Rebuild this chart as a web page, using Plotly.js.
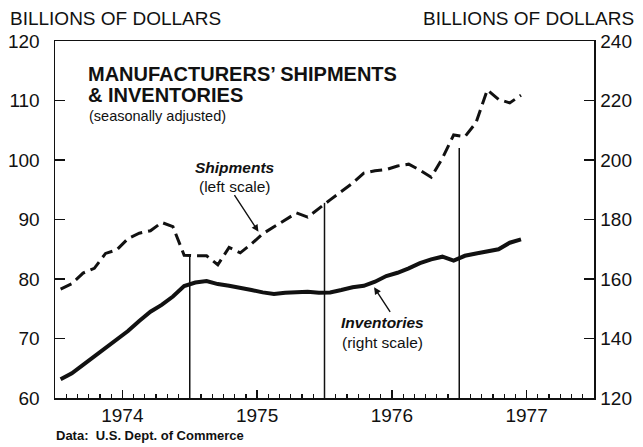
<!DOCTYPE html>
<html>
<head>
<meta charset="utf-8">
<script src="https://cdn.plot.ly/plotly-3.0.1.min.js"></script>
<style>
  html, body { margin: 0; padding: 0; background: #fff; }
  #chart { width: 643px; height: 447px; }
</style>
</head>
<body>
<div id="chart"></div>
<script>
// ---- Data (monthly, Jan 1974 – Jun 1977) ----
const yearLabels = ['1974', '1975', '1976', '1977'];
const yearCenters = [6, 18, 30, 42];          // month index of mid-year
const shipments = [78.3, 79.2, 81.0, 81.8, 84.3, 84.9, 86.8, 87.7, 88.1, 89.5, 88.8, 84.0,
                   83.9, 83.9, 82.4, 85.3, 84.4, 85.9, 87.6, 88.8, 89.9, 91.1, 90.4, 91.9,
                   93.3, 94.7, 96.1, 97.8, 98.2, 98.4, 99.0, 99.3, 98.3, 97.1, 100.3, 104.2,
                   103.9, 106.3, 111.8, 110.2, 109.6, 110.9];   // left scale, $bn
const inventories = [126.3, 128.3, 131.1, 133.9, 136.9, 139.5, 142.5, 145.9, 149.0, 151.3, 154.1, 157.6,
                     158.8, 159.3, 158.3, 157.7, 157.1, 156.3, 155.5, 155.0, 155.4, 155.7, 155.7, 155.4,
                     155.5, 156.3, 157.2, 157.7, 159.1, 161.0, 162.1, 163.6, 165.3, 166.6, 167.5, 166.2,
                     167.8, 168.6, 169.2, 170.0, 172.2, 173.3];  // right scale, $bn
const dropLineMonths = [12, 24, 36];          // year boundaries (Jan 1975, 1976, 1977)
const dropLineTops = [83.9, 92.8, 102.0];     // left-scale values where the lines stop

const monthX = shipments.map((_, i) => i + 0.5);

const ink = '#111';
const fontMain = 'Liberation Sans, Arial, sans-serif';

const traces = [
  {
    x: monthX, y: shipments, type: 'scatter', mode: 'lines', yaxis: 'y',
    line: { color: ink, width: 3, dash: '12px,6px' }, hoverinfo: 'skip'
  },
  {
    x: monthX, y: inventories, type: 'scatter', mode: 'lines', yaxis: 'y2',
    line: { color: ink, width: 4 }, hoverinfo: 'skip'
  }
];

const shapes = dropLineMonths.map((m, i) => ({
  type: 'line', xref: 'x', yref: 'y', x0: m, x1: m, y0: 60, y1: dropLineTops[i],
  line: { color: ink, width: 1.5 }
}));

const W = 643, H = 447, L = 54.6, R = 49, T = 40.5, B = 49;
const pw = W - L - R, ph = H - T - B;
const px = v => (v - L) / pw;
const py = v => (H - B - v) / ph;

function txt(text, x, y, size, opts = {}) {
  return Object.assign({
    text: text, xref: 'paper', yref: 'paper', x: px(x), y: py(y),
    showarrow: false, xanchor: 'left', yanchor: 'middle',
    font: { family: fontMain, size: size, color: ink }
  }, opts);
}

const annotations = [
  txt('BILLIONS OF DOLLARS', 8, 18, 19),
  txt('BILLIONS OF DOLLARS', 636, 18, 19, { xanchor: 'right' }),
  txt('<b>MANUFACTURERS’ SHIPMENTS</b>', 86, 74, 20),
  txt('<b>&amp; INVENTORIES</b>', 86, 95, 20),
  txt('(seasonally adjusted)', 87, 116, 14.5),
  txt('<b><i>Shipments</i></b>', 235, 167, 15.5, { xanchor: 'center' }),
  txt('(left scale)', 235, 186, 15.5, { xanchor: 'center' }),
  txt('<b><i>Inventories</i></b>', 382, 322, 15.5, { xanchor: 'center' }),
  txt('(right scale)', 382, 342, 15.5, { xanchor: 'center' }),
  txt('<b>Data:  U.S. Dept. of Commerce</b>', 54, 436, 13),
  {
    xref: 'x', yref: 'y', x: 18.12, y: 87.95, ax: -25, ay: -38, text: '',
    showarrow: true, arrowhead: 2, arrowsize: 1, arrowwidth: 1.4, arrowcolor: ink
  },
  {
    xref: 'x', yref: 'y', x: 28.42, y: 78.6, ax: 17, ay: 26, text: '',
    showarrow: true, arrowhead: 2, arrowsize: 1, arrowwidth: 1.4, arrowcolor: ink
  }
];

const tickFont = { family: fontMain, size: 19, color: ink };

const layout = {
  width: W, height: H,
  margin: { l: L, r: R, t: T, b: B, pad: 0 },
  paper_bgcolor: '#fff', plot_bgcolor: '#fff',
  showlegend: false,
  xaxis: {
    range: [0, 48], showgrid: false, zeroline: false,
    showline: true, linecolor: ink, linewidth: 1.5, mirror: true,
    tickmode: 'array', tickvals: yearCenters, ticktext: yearLabels,
    ticks: 'inside', ticklen: 8, tickwidth: 1.3, tickcolor: ink,
    tickfont: tickFont,
    minor: { tickmode: 'linear', tick0: 0, dtick: 1, ticks: 'inside', ticklen: 4, tickwidth: 1.2, tickcolor: ink, showgrid: false }
  },
  yaxis: {
    range: [60, 120], dtick: 10, tick0: 60, showgrid: false, zeroline: false,
    showline: true, linecolor: ink, linewidth: 1.5,
    ticks: 'inside', ticklen: 10, tickwidth: 1.3, tickcolor: ink,
    tickfont: tickFont, ticklabelstandoff: 10
  },
  yaxis2: {
    range: [120, 240], dtick: 20, tick0: 120, overlaying: 'y', side: 'right',
    showgrid: false, zeroline: false,
    showline: true, linecolor: ink, linewidth: 1.5,
    ticks: 'inside', ticklen: 10, tickwidth: 1.3, tickcolor: ink,
    tickfont: tickFont, ticklabelstandoff: 1
  },
  shapes: shapes,
  annotations: annotations
};

Plotly.newPlot('chart', traces, layout, { staticPlot: true, displayModeBar: false });
</script>
</body>
</html>
